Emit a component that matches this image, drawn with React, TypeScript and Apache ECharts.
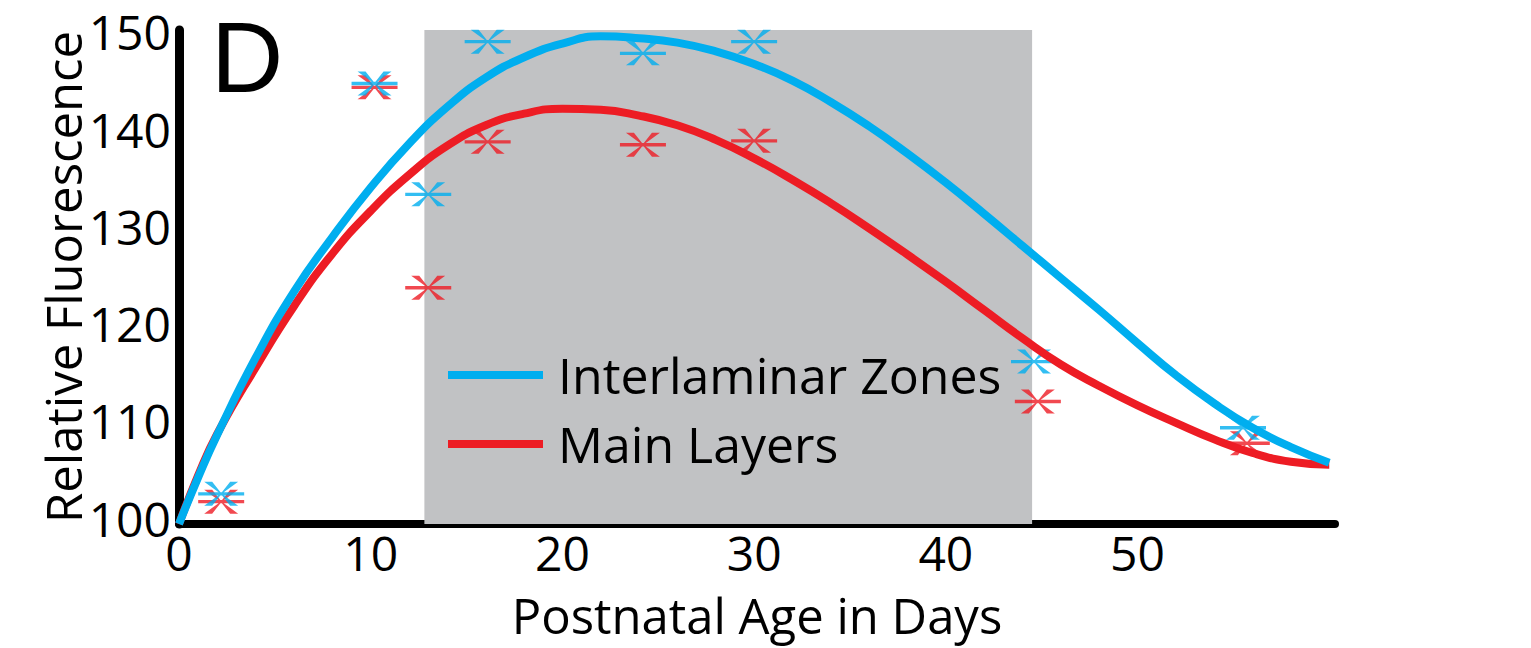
import React, { useEffect, useRef } from 'react';
import * as echarts from 'echarts';

// curve fits, read every 2 days
const curveDays = [0, 1, 2, 4, 6, 8, 10, 12, 14, 16, 18, 20, 22, 24, 26, 28, 30, 32, 34, 36, 38, 40, 42, 44, 46, 48, 50, 52, 54, 56, 58, 60];
const interlaminarFit = [100, 104.8, 109.2, 117.1, 123.9, 129.5, 134.6, 139.1, 142.9, 145.9, 148.0, 149.4, 150.15, 149.95, 149.5, 148.6, 147.3, 145.6, 143.4, 140.9, 138.1, 135.1, 131.9, 128.6, 125.3, 122.0, 118.6, 115.3, 112.4, 109.9, 107.9, 106.3];
const mainFit = [100, 105.0, 109.3, 116.1, 122.4, 127.8, 132.2, 135.9, 138.9, 141.0, 142.2, 142.7, 142.6, 142.0, 141.0, 139.5, 137.6, 135.4, 133.0, 130.4, 127.7, 124.9, 122.0, 119.1, 116.4, 114.2, 112.2, 110.4, 108.7, 107.3, 106.4, 106.1];

// measured points
const interlaminarPts = [[2.2, 103.1], [10.2, 145.3], [13.0, 133.9], [16.1, 149.6], [24.2, 148.4], [30.0, 149.6], [44.6, 116.7], [55.5, 109.9]];
const mainPts = [[2.2, 102.3], [10.2, 144.9], [13.0, 124.3], [16.1, 139.3], [24.2, 139.0], [30.0, 139.4], [44.8, 112.6], [55.7, 108.3]];

const criticalPeriod = [12.8, 44.5];
const xTicks = [0, 10, 20, 30, 40, 50];
const yTicks = [100, 110, 120, 130, 140, 150];

const BLUE = '#00aeef';
const RED = '#ed1c24';
const FONT = 'Open Sans';

// horizontal bar + two flared diagonal arms
const asterisk =
  'path://M0 10.3L46 10.3L46 13.7L0 13.7Z' +
  'M6 0L14 0L23.5 12L40 24L32 24L22.5 12Z' +
  'M32 0L40 0L23.5 12L14 24L6 24L22.5 12Z';

const App: React.FC = () => {
  const chartRef = useRef<HTMLDivElement>(null);

  useEffect(() => {
    if (!chartRef.current) return;
    const chart = echarts.init(chartRef.current, undefined, { renderer: 'svg' });

    const pairs = (ys: number[]) => curveDays.map((d, i) => [d, ys[i]]);

    chart.setOption({
      animation: false,
      backgroundColor: '#fff',
      textStyle: { fontFamily: FONT },
      grid: { left: 179, right: 196, top: 30, bottom: 124 },
      legend: {
        data: ['Interlaminar Zones', 'Main Layers'],
        orient: 'vertical',
        left: 443,
        top: 345,
        icon: 'rect',
        itemWidth: 95,
        itemHeight: 8,
        itemGap: 19,
        textStyle: { fontSize: 50, color: '#000', fontFamily: FONT, padding: [0, 0, 0, 10] },
        selectedMode: false,
      },
      graphic: [
        {
          type: 'text',
          left: 211,
          top: 7,
          style: { text: 'D', fontSize: 100, fontFamily: 'Liberation Sans', fill: '#000' },
        },
      ],
      xAxis: {
        type: 'value',
        min: 0,
        max: 60.3,
        interval: 10,
        name: 'Postnatal Age in Days',
        nameLocation: 'middle',
        nameGap: 66,
        nameMoveOverlap: false,
        nameTextStyle: { fontSize: 49, color: '#000', fontFamily: FONT },
        axisLine: { lineStyle: { color: '#000', width: 8 } },
        axisTick: { show: false },
        splitLine: { show: false },
        axisLabel: {
          fontSize: 48,
          color: '#000',
          fontFamily: FONT,
          margin: 4,
          formatter: (v: number) => (xTicks.includes(v) ? String(v) : ''),
        },
      },
      yAxis: {
        type: 'value',
        min: 100,
        max: 150.8,
        interval: 10,
        name: 'Relative Fluorescence',
        nameLocation: 'middle',
        nameGap: 92,
        nameMoveOverlap: false,
        nameTextStyle: { fontSize: 49, color: '#000', fontFamily: FONT },
        axisLine: { show: true, lineStyle: { color: '#000', width: 9 } },
        axisTick: { show: false },
        splitLine: { show: false },
        axisLabel: {
          fontSize: 48,
          color: '#000',
          fontFamily: FONT,
          margin: 8,
          verticalAlign: 'bottom',
          lineHeight: 12,
          formatter: (v: number) => (yTicks.includes(v) ? String(v) : ''),
        },
      },
      series: [
        {
          name: 'period',
          type: 'line',
          z: 0,
          data: [],
          silent: true,
          markArea: {
            silent: true,
            itemStyle: { color: '#c1c2c4' },
            data: [[{ xAxis: criticalPeriod[0] }, { xAxis: criticalPeriod[1] }]],
          },
        },
        {
          name: 'Main Layers pts',
          type: 'scatter',
          symbol: asterisk,
          symbolSize: [46, 24],
          itemStyle: { color: RED },
          data: mainPts,
        },
        {
          name: 'Interlaminar Zones pts',
          type: 'scatter',
          symbol: asterisk,
          symbolSize: [46, 24],
          itemStyle: { color: BLUE },
          data: interlaminarPts,
        },
        {
          name: 'Main Layers',
          type: 'line',
          smooth: true,
          showSymbol: false,
          color: RED,
          lineStyle: { color: RED, width: 8 },
          data: pairs(mainFit),
        },
        {
          name: 'Interlaminar Zones',
          type: 'line',
          smooth: true,
          showSymbol: false,
          color: BLUE,
          lineStyle: { color: BLUE, width: 8 },
          data: pairs(interlaminarFit),
        },
      ],
    });

    return () => chart.dispose();
  }, []);

  return (
    <div
      ref={chartRef}
      style={{ position: 'absolute', left: 0, top: 0, width: 1531, height: 648 }}
    />
  );
};

export default App;
